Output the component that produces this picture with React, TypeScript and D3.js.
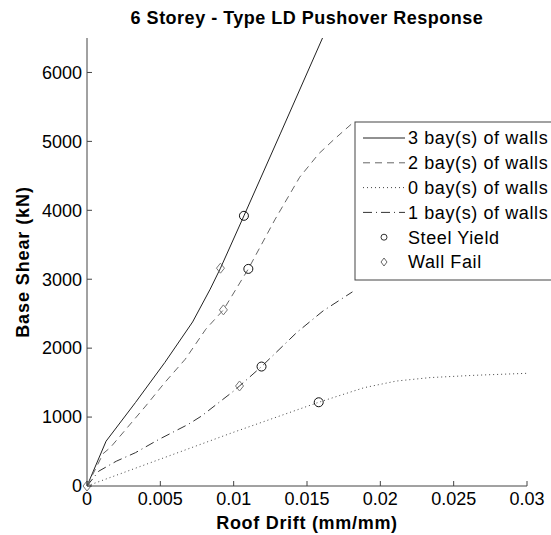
import React from "react";
import * as d3 from "d3";

type Pt = [number, number];

const title = "6 Storey - Type LD Pushover Response";
const xLabel = "Roof Drift (mm/mm)";
const yLabel = "Base Shear (kN)";
const xTicks = [0, 0.005, 0.01, 0.015, 0.02, 0.025, 0.03];
const xTickLabels = ["0", "0.005", "0.01", "0.015", "0.02", "0.025", "0.03"];
const yTicks = [0, 1000, 2000, 3000, 4000, 5000, 6000];

const bay3: Pt[] = [
  [0, 0], [0.0013, 650], [0.0033, 1210], [0.0053, 1790],
  [0.0072, 2380], [0.0084, 2856], [0.0091, 3160], [0.0107, 3920],
  [0.0132, 5120], [0.0161, 6520],
];
const bay2: Pt[] = [
  [0, 0], [0.0011, 470], [0.0016, 560], [0.004, 1160], [0.0053, 1500],
  [0.0067, 1840], [0.0081, 2275], [0.0093, 2555], [0.011, 3150],
  [0.0128, 3860], [0.0145, 4480], [0.0158, 4820], [0.0168, 5020], [0.0181, 5265],
];
const bay0: Pt[] = [
  [0, 0], [0.0099, 773], [0.0158, 1215], [0.0189, 1427], [0.0211, 1523],
  [0.0234, 1573], [0.0264, 1606], [0.03, 1635],
];
const bay1: Pt[] = [
  [0, 0], [0.0008, 215], [0.002, 360], [0.0033, 483], [0.0049, 676],
  [0.0069, 894], [0.0078, 1014], [0.01, 1378], [0.0104, 1451],
  [0.0119, 1733], [0.0143, 2227], [0.0161, 2541], [0.0181, 2817],
];
const steelYield: Pt[] = [
  [0.0107, 3920], [0.011, 3150], [0.0119, 1733], [0.0158, 1215],
];
const wallFail: Pt[] = [
  [0.0091, 3160], [0.0093, 2555], [0.0104, 1451], [0, 0],
];

const seriesNames = [
  "3 bay(s) of walls",
  "2 bay(s) of walls",
  "0 bay(s) of walls",
  "1 bay(s) of walls",
];
const markerNames = ["Steel Yield", "Wall Fail"];

const W = 551;
const H = 535;
const M = { left: 87, right: 527, top: 38, bottom: 486 };
const FONT = "Arial, 'Liberation Sans', Helvetica, sans-serif";

const seriesStyles = [
  { stroke: "#222", dash: "none" },
  { stroke: "#666", dash: "7,5" },
  { stroke: "#444", dash: "1,3" },
  { stroke: "#333", dash: "9,4,1,4" },
];

export default function App() {
  const x = d3.scaleLinear().domain([0, 0.03]).range([M.left, M.right]);
  const y = d3.scaleLinear().domain([0, 6500]).range([M.bottom, M.top]);
  const line = d3
    .line<Pt>()
    .x((d) => x(d[0]))
    .y((d) => y(d[1]));
  const data = [bay3, bay2, bay0, bay1];

  const diamond = (cx: number, cy: number, hw: number, hh: number) =>
    `M${cx},${cy - hh}L${cx + hw},${cy}L${cx},${cy + hh}L${cx - hw},${cy}Z`;

  const lgX = 355;
  const lgY = 122;
  const rowY = (i: number) => 138 + i * 24.8;

  return (
    <svg
      width={W}
      height={H}
      style={{ position: "absolute", left: 0, top: 0, background: "#fff" }}
      fontFamily={FONT}
    >
      <defs>
        <clipPath id="plotclip">
          <rect x={M.left} y={M.top} width={M.right - M.left} height={M.bottom - M.top} />
        </clipPath>
      </defs>
      <rect x={0} y={0} width={W} height={H} fill="#fff" />

      <g clipPath="url(#plotclip)">
        {data.map((d, i) => (
          <path
            key={i}
            d={line(d) || ""}
            fill="none"
            stroke={seriesStyles[i].stroke}
            strokeWidth={1}
            strokeDasharray={seriesStyles[i].dash}
          />
        ))}
      </g>

      {steelYield.map((p, i) => (
        <circle key={"c" + i} cx={x(p[0])} cy={y(p[1])} r={4.5} fill="none" stroke="#111" strokeWidth={1} />
      ))}
      {wallFail.map((p, i) => (
        <path key={"d" + i} d={diamond(x(p[0]), y(p[1]), 4, 5)} fill="none" stroke="#777" strokeWidth={1} />
      ))}

      {/* axes */}
      <line x1={M.left} x2={M.left} y1={M.top} y2={M.bottom} stroke="#444" strokeWidth={1} />
      <line x1={M.left} x2={M.right} y1={M.bottom} y2={M.bottom} stroke="#444" strokeWidth={1} />
      {xTicks.map((t, i) => (
        <g key={"xt" + i}>
          <line x1={x(t)} x2={x(t)} y1={M.bottom} y2={M.bottom - 5} stroke="#444" />
          <text x={x(t)} y={M.bottom + 19} textAnchor="middle" fontSize={18} fill="#000">
            {xTickLabels[i]}
          </text>
        </g>
      ))}
      {yTicks.map((t, i) => (
        <g key={"yt" + i}>
          <line x1={M.left} x2={M.left + 5} y1={y(t)} y2={y(t)} stroke="#444" />
          <text x={M.left - 5} y={y(t)} dy="0.35em" textAnchor="end" fontSize={18} fill="#000">
            {d3.format("d")(t)}
          </text>
        </g>
      ))}

      <text x={(M.left + M.right) / 2} y={23.5} textAnchor="middle" fontSize={18} fontWeight="bold" letterSpacing={0.5} fill="#000">
        {title}
      </text>
      <text x={(M.left + M.right) / 2} y={529} textAnchor="middle" fontSize={18} fontWeight="bold" letterSpacing={0.7} fill="#000">
        {xLabel}
      </text>
      <text
        transform={`translate(29, ${(M.top + M.bottom) / 2}) rotate(-90)`}
        textAnchor="middle"
        fontSize={18}
        fontWeight="bold"
        letterSpacing={0.9}
        fill="#000"
      >
        {yLabel}
      </text>

      {/* legend */}
      <rect x={lgX} y={lgY} width={220} height={158} fill="#fff" stroke="#444" strokeWidth={1} />
      {seriesNames.map((n, i) => (
        <g key={"lg" + i}>
          <line
            x1={363}
            x2={405}
            y1={rowY(i)}
            y2={rowY(i)}
            stroke={seriesStyles[i].stroke}
            strokeDasharray={seriesStyles[i].dash}
          />
          <text x={408} y={rowY(i)} dy="0.35em" fontSize={18} letterSpacing={0.6} fill="#000">
            {n}
          </text>
        </g>
      ))}
      <circle cx={384} cy={rowY(4)} r={3} fill="none" stroke="#333" />
      <text x={408} y={rowY(4)} dy="0.35em" fontSize={18} letterSpacing={0.6} fill="#000">
        {markerNames[0]}
      </text>
      <path d={diamond(384, rowY(5), 3, 4)} fill="none" stroke="#666" />
      <text x={408} y={rowY(5)} dy="0.35em" fontSize={18} letterSpacing={0.6} fill="#000">
        {markerNames[1]}
      </text>
    </svg>
  );
}
